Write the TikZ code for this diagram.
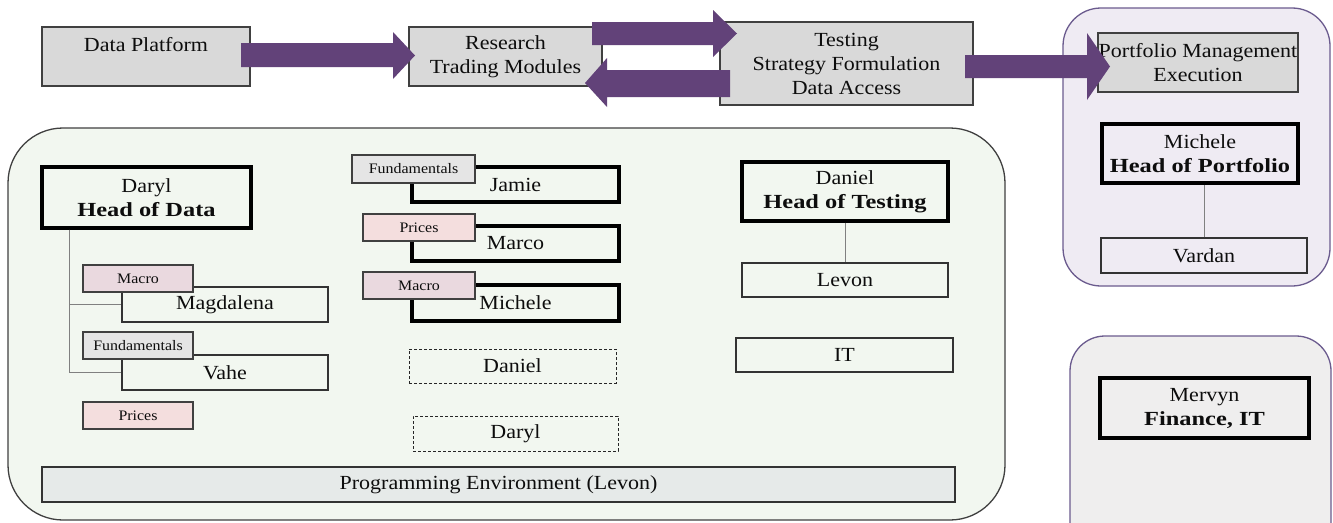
\documentclass[tikz,border=0pt]{standalone}
\usepackage{fontspec}
\setmainfont{Liberation Serif}[FakeStretch=1.1, BoldFeatures={FakeStretch=1.22}]
\definecolor{arrowpurple}{HTML}{624279}
\definecolor{boxgray}{HTML}{D9D9D9}
\definecolor{greenbg}{HTML}{F2F7F0}
\definecolor{lavbg}{HTML}{EFEBF3}
\definecolor{graybg}{HTML}{EFEEEE}
\definecolor{purpleedge}{HTML}{6B5B8E}
\definecolor{macrofill}{HTML}{EAD9DF}
\definecolor{fundfill}{HTML}{E5E5E5}
\definecolor{pricefill}{HTML}{F4DEDE}
\definecolor{barfill}{HTML}{E6EAE9}
\tikzset{
 every node/.style={font=\fontsize{20}{24}\selectfont, inner sep=0pt, align=center, text=black!95},
 sz/.style 2 args={minimum width=#1pt, minimum height=#2pt},
 topbox/.style={draw=black!75, fill=boxgray, line width=1.3pt},
 namebox/.style={draw=black!80, line width=1.3pt},
 headbox/.style={draw=black, line width=3.2pt},
 tagbox/.style={draw=black!75, line width=1.3pt, font=\fontsize{14.5}{16}\selectfont, minimum width=110pt, minimum height=27pt},
 dashbox/.style={draw=black!85, line width=1pt, dash pattern=on 3pt off 2pt},
 conn/.style={draw=black!50, line width=1pt},
 blockarrow/.style={fill=arrowpurple},
 groupgreen/.style={draw=black!75, fill=greenbg, line width=1.3pt, rounded corners=55pt},
 grouppurple/.style={draw=purpleedge, line width=1.3pt, rounded corners=38pt},
}
\begin{document}
\begin{tikzpicture}[x=1pt,y=-1pt]
\clip (0,0) rectangle (1333,522);
\fill[white] (0,0) rectangle (1333,522);
% group backgrounds
\draw[groupgreen] (8,128) rectangle (1005,520);
\draw[grouppurple, fill=lavbg] (1063,8) rectangle (1330,286);
\draw[grouppurple, fill=graybg, rounded corners=35pt] (1070,336) rectangle (1331,580);
% top row
\node[topbox, sz={208}{59}] (dataP) at (146,56.5) {Data Platform\\\mbox{}};
\node[topbox, sz={193}{59}] (research) at (505.5,56.5) {Research\\Trading Modules};
\node[topbox, sz={253}{83}] (testing) at (846.5,63.5) {Testing\\Strategy Formulation\\Data Access};
\node[topbox, sz={200}{59}] (portfolio) at (1198,62.5) {Portfolio Management\\Execution};
% portfolio group
\node[headbox, sz={196}{59}] (micheleP) at (1200,153.5) {Michele\\\textbf{Head of Portfolio}};
\node[namebox, sz={206}{35}] (vardan) at (1204,255.5) {Vardan};
\draw[conn] (vardan.north) -- (vardan.north |- micheleP.south);
% finance group
\node[headbox, sz={209}{60}] (mervyn) at (1204.5,408) {Mervyn\\\textbf{Finance, IT}};
% data column
\node[headbox, sz={209}{61}] (darylH) at (146.5,197.5) {Daryl\\\textbf{Head of Data}};
\node[namebox, sz={206}{35}] (magda) at (225,304.5) {Magdalena};
\node[namebox, sz={206}{35}] (vahe) at (225,372.5) {Vahe};
\coordinate (trunk) at ([xshift=29pt]darylH.south west);
\draw[conn] (trunk) |- (magda.west);
\draw[conn] (trunk) |- (vahe.west);
\node[tagbox, fill=macrofill] (macroA) at (138,278.5) {Macro};
\node[tagbox, fill=fundfill] (fundA) at (138,345.5) {Fundamentals};
\node[tagbox, fill=pricefill] (pricesA) at (138,415.5) {Prices};
% research column
\node[headbox, sz={207}{35}] (jamie) at (515.5,184.5) {Jamie};
\node[headbox, sz={207}{35}] (marco) at (515.5,243.5) {Marco};
\node[headbox, sz={207}{36}] (micheleR) at (515.5,303) {Michele};
\node[tagbox, fill=fundfill, minimum width=123pt, minimum height=28pt] (fundB) at (413.5,169) {Fundamentals};
\node[tagbox, fill=pricefill, minimum width=112pt] (pricesB) at (419,227.5) {Prices};
\node[tagbox, fill=macrofill, minimum width=112pt] (macroB) at (419,285.5) {Macro};
\node[dashbox, sz={207}{34}] (danielD) at (512.5,366) {Daniel};
\node[dashbox, sz={205}{35}] (darylD) at (515.5,433.5) {Daryl};
% testing column
\node[headbox, sz={206}{59}] (danielH) at (845,191.5) {Daniel\\\textbf{Head of Testing}};
\node[namebox, sz={206}{34}] (levon) at (845,280) {Levon};
\draw[conn] (danielH.south) -- (levon.north);
\node[namebox, sz={217}{34}] (it) at (844.5,355) {IT};
% programming bar
\node[namebox, fill=barfill, sz={913}{35}] (prog) at (498.5,484.5) {Programming Environment (Levon)};
% block arrows
\fill[blockarrow] (241,43) -- (393,43) -- (393,32) -- (415,55.5) -- (393,79) -- (393,67) -- (241,67) -- cycle;
\fill[blockarrow] (592,22) -- (713,22) -- (713,10) -- (737,33.5) -- (713,57) -- (713,45) -- (592,45) -- cycle;
\fill[blockarrow] (730,70) -- (607,70) -- (607,58) -- (585,83) -- (607,107) -- (607,97) -- (730,97) -- cycle;
\fill[blockarrow] (965,55) -- (1087,55) -- (1087,33) -- (1110,66.5) -- (1087,100) -- (1087,78) -- (965,78) -- cycle;
\end{tikzpicture}
\end{document}
